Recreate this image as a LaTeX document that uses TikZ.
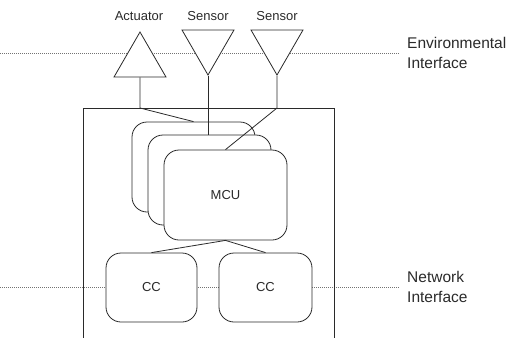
\documentclass[tikz,border=0pt]{standalone}
\usepackage{fontspec}
\setmainfont{Liberation Sans}
\usetikzlibrary{shapes.geometric}
\definecolor{ink}{HTML}{2A2A2A}
\begin{document}
\begin{tikzpicture}[x=1pt,y=-1pt,
  wire/.style={draw=ink,line width=0.8pt},
  iface/.style={draw=black!55,line width=0.8pt,dash pattern=on 1pt off 1pt},
  unit/.style={draw=ink,line width=0.8pt,fill=white,rounded corners=15pt,
    inner sep=0pt,font=\fontsize{13}{15}\selectfont,text=ink},
  tri/.style={regular polygon,regular polygon sides=3,draw=ink,line width=0.8pt,
    fill=white,inner sep=0pt,minimum size=60pt},
  tag/.style={font=\fontsize{13}{15}\selectfont,text=ink,inner sep=0pt},
  side/.style={font=\fontsize{15.5}{20}\selectfont,text=ink,align=left,
    anchor=west,inner sep=0pt}]
\useasboundingbox (0,0) rectangle (507,338);

% interface levels
\coordinate (envL) at (0,53);
\coordinate (envR) at (400,53);
\coordinate (netL) at (0,287);
\coordinate (netR) at (400,287);
\draw[iface] (envL) -- (envR);
\draw[iface] (netL) -- (netR);
\node[side] (envlab) at (407,53) {Environmental\\Interface};
\node[side] (netlab) at (407,287) {Network\\Interface};

% node enclosure
\node[draw=ink,line width=0.8pt,minimum width=251pt,minimum height=240pt,
  inner sep=0pt,anchor=north west] (board) at (83,108) {};

% transducers
\node[tri] (act) at (140,62) {};
\node[tri,shape border rotate=180] (sen1) at (208,45) {};
\node[tri,shape border rotate=180] (sen2) at (277,45) {};
\node[tag] (actlab) at (139,16) {Actuator};
\node[tag] (sen1lab) at (208,16) {Sensor};
\node[tag] (sen2lab) at (277,16) {Sensor};

% stacked microcontrollers
\node[unit,minimum width=123pt,minimum height=90pt] (mcuback) at (193.5,167) {};
\node[unit,minimum width=123pt,minimum height=90pt] (mcumid) at (209.5,180) {};
\node[unit,minimum width=123pt,minimum height=90pt] (mcu) at (225.5,195) {MCU};

% communication controllers
\node[unit,minimum width=91pt,minimum height=69pt] (cc1) at (151.5,287.5) {CC};
\node[unit,minimum width=93pt,minimum height=69pt] (cc2) at (265.5,287.5) {CC};

% wiring
\draw[wire] (act.side 2) -- (act.side 2 |- board.north) -- (mcuback.north);
\draw[wire] (sen1.corner 1) -- (sen1.corner 1 |- mcumid.north);
\draw[wire] (sen2.corner 1) -- (sen2.corner 1 |- board.north) -- (mcu.north);
\draw[wire] (cc1.north) -- (mcu.south) -- (cc2.north);
\end{tikzpicture}
\end{document}
